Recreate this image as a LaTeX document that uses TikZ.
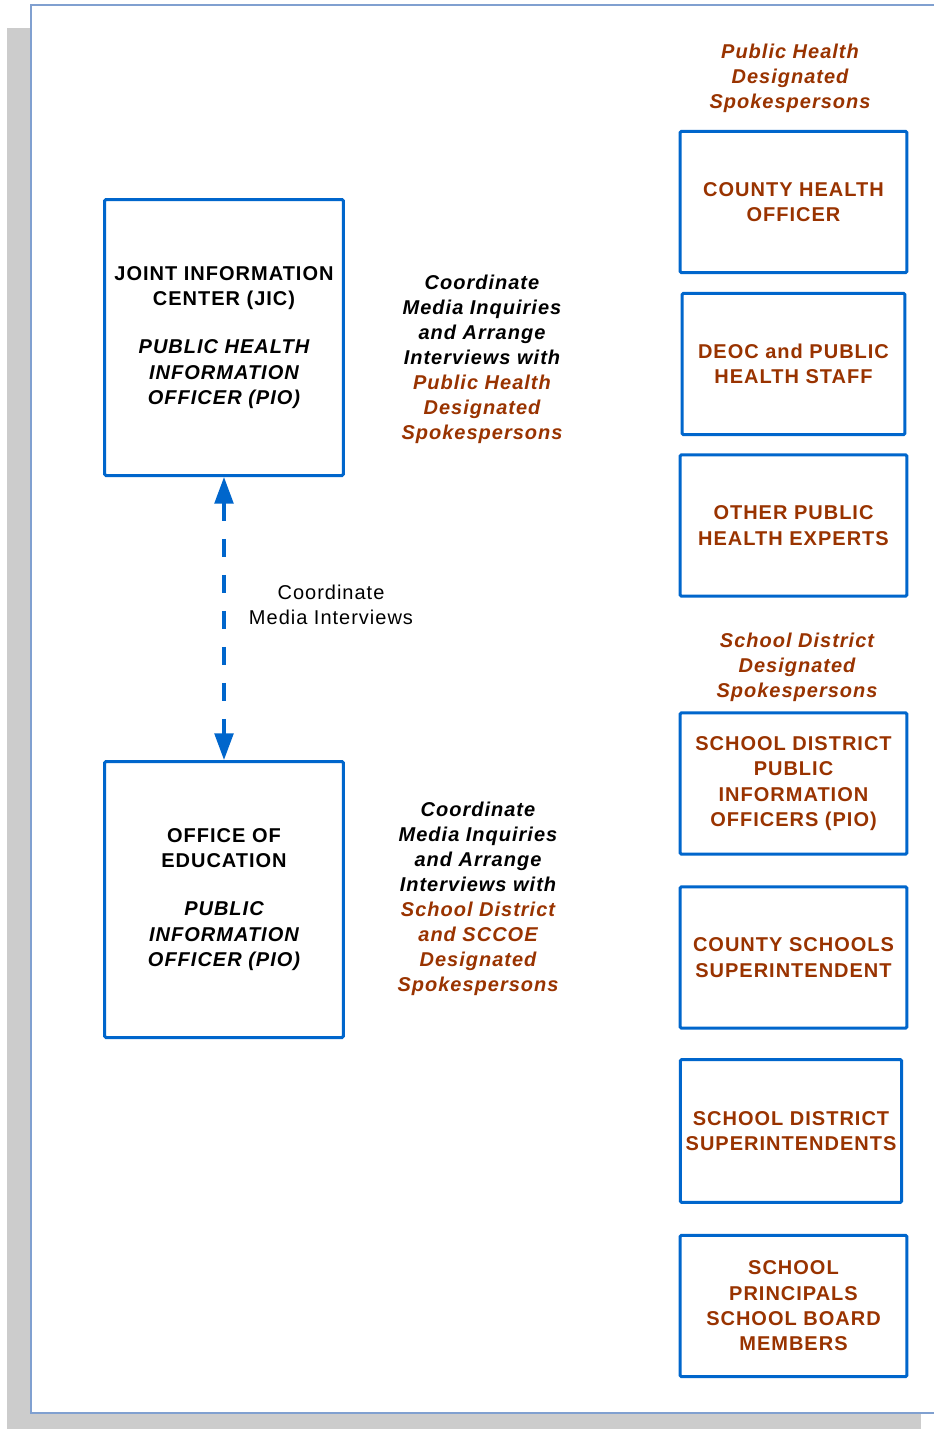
\documentclass[tikz,border=0pt]{standalone}
\usepackage{fontspec}
\setmainfont{Liberation Sans}[LetterSpace=5]
\usetikzlibrary{arrows.meta}
\definecolor{boxblue}{RGB}{0,102,204}
\definecolor{spokebrown}{RGB}{153,51,0}
\definecolor{pageedge}{RGB}{128,160,208}
\definecolor{shadowgray}{RGB}{204,204,204}
\tikzset{
  orgbox/.style={draw=boxblue, line width=2.25pt, rounded corners=1pt, align=center, inner sep=0pt,
    font=\bfseries\fontsize{15}{19}\selectfont},
  pioboard/.style={orgbox, minimum width=179pt, minimum height=207pt},
  spokebox/.style={orgbox, text=spokebrown, minimum width=168pt, minimum height=106pt},
  note/.style={align=center, inner sep=0pt, font=\bfseries\itshape\fontsize{15}{18.75}\selectfont},
  link/.style={boxblue, line width=2.6pt, dash pattern=on 14pt off 13pt,
    {Triangle[width=14pt,length=20pt]}-{Triangle[width=14pt,length=20pt]}},
}
\begin{document}
\begin{tikzpicture}[x=0.75pt,y=0.75pt,yscale=-1,xscale=1]
\useasboundingbox (0,0) rectangle (934,1429);
\clip (0,0) rectangle (934,1429);
% page and its shadow
\fill [shadowgray] (7,28) rectangle (921,1429);
\draw [pageedge, fill=white, line width=1.2pt] (31,5) rectangle (960,1413);

% Left column
\node [pioboard] (jic) at (224,337.5) {JOINT INFORMATION\\CENTER (JIC)\\[17pt]\itshape PUBLIC HEALTH\\\itshape INFORMATION\\\itshape OFFICER (PIO)};
\node [pioboard] (oe) at (224,899.5) {OFFICE OF\\EDUCATION\\[17pt]\itshape PUBLIC\\\itshape INFORMATION\\\itshape OFFICER (PIO)};
\draw [link] (jic) -- (oe);
% Text Node
\node [align=center, inner sep=0pt, font=\fontsize{15}{18.75}\selectfont] (media) at (331,604.5) {Coordinate\\Media Interviews};

% Middle notes
\node [note] (phnote) at (482,359) {Coordinate\\Media Inquiries\\and Arrange\\Interviews with\\\textcolor{spokebrown}{Public Health}\\\textcolor{spokebrown}{Designated}\\\textcolor{spokebrown}{Spokespersons}};
\node [note] (sdnote) at (478,898.5) {Coordinate\\Media Inquiries\\and Arrange\\Interviews with\\\textcolor{spokebrown}{School District}\\\textcolor{spokebrown}{and SCCOE}\\\textcolor{spokebrown}{Designated}\\\textcolor{spokebrown}{Spokespersons}};

% Right column
\node [note, text=spokebrown] (phhead) at (790,78.5) {Public Health\\Designated\\Spokespersons};
\node [spokebox, minimum width=170pt] (cho) at (793.5,202) {COUNTY HEALTH\\OFFICER};
\node [spokebox, minimum width=167pt] (deoc) at (793.5,364) {DEOC and PUBLIC\\HEALTH STAFF};
\node [spokebox, minimum width=170pt] (ophe) at (793.5,525.5) {OTHER PUBLIC\\HEALTH EXPERTS};
\node [note, text=spokebrown] (sdhead) at (797,667.5) {School District\\Designated\\Spokespersons};
\node [spokebox, minimum width=170pt] (sdpio) at (793.5,783.5) {SCHOOL DISTRICT\\PUBLIC\\INFORMATION\\OFFICERS (PIO)};
\node [spokebox, minimum width=170pt] (css) at (793.5,957.5) {COUNTY SCHOOLS\\SUPERINTENDENT};
\node [spokebox, minimum width=166pt, minimum height=107pt] (sds) at (791,1131) {SCHOOL DISTRICT\\SUPERINTENDENTS};
\node [spokebox, minimum width=170pt] (spsb) at (793.5,1306) {SCHOOL\\PRINCIPALS\\SCHOOL BOARD\\MEMBERS};
\end{tikzpicture}
\end{document}
